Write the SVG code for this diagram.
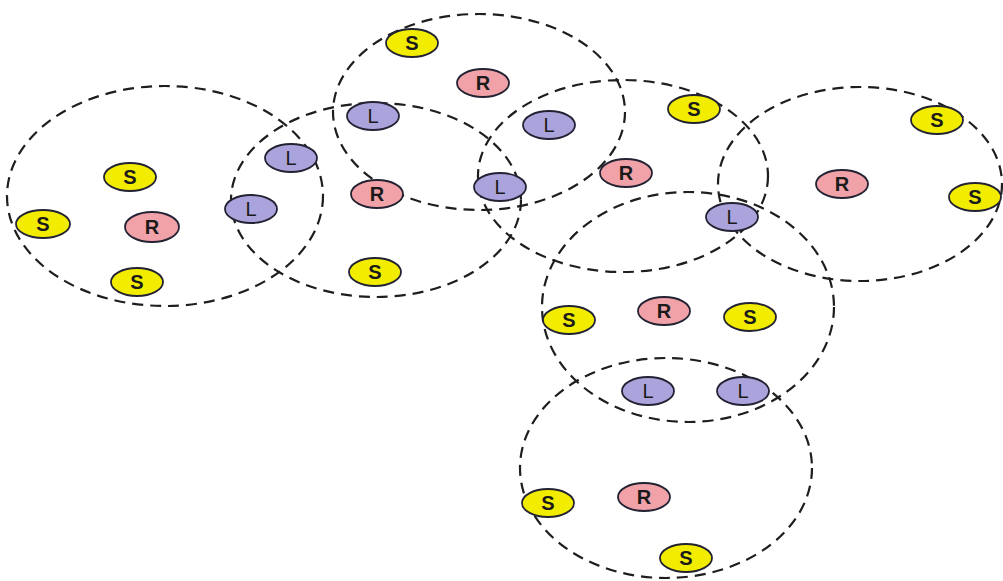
<svg xmlns="http://www.w3.org/2000/svg" width="1003" height="581" viewBox="0 0 1003 581">
<style>
.c{fill:none;stroke:#1e1e1e;stroke-width:2.2;stroke-dasharray:11 7}
.n{stroke:#222233;stroke-width:1.8}
.s{fill:#f2ec00}
.r{fill:#f0a2a8}
.l{fill:#aba4dc}
.t{font-family:"Liberation Sans",Arial,sans-serif;font-size:20px;text-anchor:middle;fill:#1a1a1a}
.b{font-weight:bold}
</style>
<rect width="1003" height="581" fill="#ffffff"/>
<g id="connectors">
<ellipse class="c" cx="165" cy="196" rx="158" ry="110"/>
<ellipse class="c" cx="376" cy="200" rx="145" ry="97"/>
<ellipse class="c" cx="479" cy="112" rx="146" ry="98"/>
<ellipse class="c" cx="623" cy="176" rx="145" ry="96"/>
<ellipse class="c" cx="860" cy="184" rx="142" ry="97"/>
<ellipse class="c" cx="688" cy="307" rx="146" ry="115"/>
<ellipse class="c" cx="666" cy="468" rx="146" ry="110"/>
</g>
<g id="n1"><ellipse class="n s" cx="130" cy="177" rx="26" ry="14"/><text class="t b" x="130" y="184">S</text></g>
<g id="n2"><ellipse class="n s" cx="43" cy="224" rx="27" ry="14"/><text class="t b" x="43" y="231">S</text></g>
<g id="n3"><ellipse class="n r" cx="152" cy="227" rx="27" ry="15"/><text class="t b" x="152" y="234">R</text></g>
<g id="n4"><ellipse class="n s" cx="137" cy="282" rx="26" ry="14"/><text class="t b" x="137" y="289">S</text></g>
<g id="n5"><ellipse class="n l" cx="291" cy="158" rx="26" ry="14"/><text class="t" x="291" y="165">L</text></g>
<g id="n6"><ellipse class="n l" cx="251" cy="209" rx="26" ry="14"/><text class="t" x="251" y="216">L</text></g>
<g id="n7"><ellipse class="n r" cx="377" cy="194" rx="26" ry="14"/><text class="t b" x="377" y="201">R</text></g>
<g id="n8"><ellipse class="n s" cx="375" cy="272" rx="26" ry="14"/><text class="t b" x="375" y="279">S</text></g>
<g id="n9"><ellipse class="n s" cx="412" cy="43" rx="26" ry="14"/><text class="t b" x="412" y="50">S</text></g>
<g id="n10"><ellipse class="n r" cx="483" cy="83" rx="26" ry="14"/><text class="t b" x="483" y="90">R</text></g>
<g id="n11"><ellipse class="n l" cx="373" cy="116" rx="26" ry="14"/><text class="t" x="373" y="123">L</text></g>
<g id="n12"><ellipse class="n l" cx="549" cy="125" rx="26" ry="14"/><text class="t" x="549" y="132">L</text></g>
<g id="n13"><ellipse class="n l" cx="500" cy="187" rx="26" ry="14"/><text class="t" x="500" y="194">L</text></g>
<g id="n14"><ellipse class="n s" cx="694" cy="109" rx="26" ry="14"/><text class="t b" x="694" y="116">S</text></g>
<g id="n15"><ellipse class="n r" cx="626" cy="173" rx="26" ry="14"/><text class="t b" x="626" y="180">R</text></g>
<g id="n16"><ellipse class="n s" cx="937" cy="120" rx="26" ry="14"/><text class="t b" x="937" y="127">S</text></g>
<g id="n17"><ellipse class="n r" cx="842" cy="184" rx="26" ry="14"/><text class="t b" x="842" y="191">R</text></g>
<g id="n18"><ellipse class="n s" cx="975" cy="197" rx="26" ry="14"/><text class="t b" x="975" y="204">S</text></g>
<g id="n19"><ellipse class="n l" cx="732" cy="217" rx="26" ry="14"/><text class="t" x="732" y="224">L</text></g>
<g id="n20"><ellipse class="n s" cx="569" cy="320" rx="26" ry="14"/><text class="t b" x="569" y="327">S</text></g>
<g id="n21"><ellipse class="n r" cx="664" cy="311" rx="26" ry="14"/><text class="t b" x="664" y="318">R</text></g>
<g id="n22"><ellipse class="n s" cx="750" cy="317" rx="26" ry="14"/><text class="t b" x="750" y="324">S</text></g>
<g id="n23"><ellipse class="n l" cx="648" cy="391" rx="26" ry="14"/><text class="t" x="648" y="398">L</text></g>
<g id="n24"><ellipse class="n l" cx="743" cy="391" rx="26" ry="14"/><text class="t" x="743" y="398">L</text></g>
<g id="n25"><ellipse class="n s" cx="548" cy="503" rx="26" ry="14"/><text class="t b" x="548" y="510">S</text></g>
<g id="n26"><ellipse class="n r" cx="644" cy="497" rx="26" ry="14"/><text class="t b" x="644" y="504">R</text></g>
<g id="n27"><ellipse class="n s" cx="686" cy="558" rx="26" ry="14"/><text class="t b" x="686" y="565">S</text></g>
</svg>
